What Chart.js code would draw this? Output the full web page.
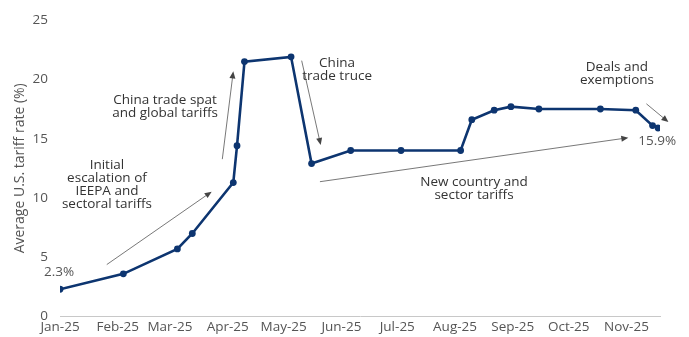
<!DOCTYPE html>
<html>
<head>
<meta charset="utf-8">
<script src="https://cdn.jsdelivr.net/npm/chart.js@4.4.1/dist/chart.umd.min.js"></script>
<style>
  html, body { margin: 0; padding: 0; background: #ffffff; }
  #wrap { width: 689px; height: 337px; }
</style>
</head>
<body>
<div id="wrap"><canvas id="chart" width="689" height="337"></canvas></div>
<script>
// Observation dates and the average U.S. tariff rate (%) on each
const dates = [
  '2025-01-01', '2025-02-04', '2025-03-05', '2025-03-13', '2025-04-04',
  '2025-04-06', '2025-04-10', '2025-05-05', '2025-05-16', '2025-06-06',
  '2025-07-03', '2025-08-04', '2025-08-10', '2025-08-22', '2025-08-31',
  '2025-09-15', '2025-10-18', '2025-11-06', '2025-11-15', '2025-11-18'
];
const tariffRate = [
  2.3, 3.6, 5.7, 7.0, 11.3,
  14.4, 21.5, 21.9, 12.9, 14.0,
  14.0, 14.0, 16.6, 17.4, 17.7,
  17.5, 17.5, 17.4, 16.1, 15.9
];

// Month ticks along the date axis
const monthStarts = [
  '2025-01-01', '2025-02-01', '2025-03-01', '2025-04-01', '2025-05-01', '2025-06-01',
  '2025-07-01', '2025-08-01', '2025-09-01', '2025-10-01', '2025-11-01'
];
const monthLabels = [
  'Jan-25', 'Feb-25', 'Mar-25', 'Apr-25', 'May-25', 'Jun-25',
  'Jul-25', 'Aug-25', 'Sep-25', 'Oct-25', 'Nov-25'
];
const yTicks = [0, 5, 10, 15, 20, 25];

// Event notes: text lines, and where the first line sits (day of year, %)
const noteText = [
  ['Initial', 'escalation of', 'IEEPA and', 'sectoral tariffs'],
  ['China trade spat', 'and global tariffs'],
  ['China', 'trade truce'],
  ['New country and', 'sector tariffs'],
  ['Deals and', 'exemptions']
];
const noteAt = [[25.2, 12.75], [56.4, 18.25], [148.7, 21.35], [222.2, 11.37], [298.9, 21.02]];
// Arrows pointing from each note toward its phase (day of year, %)
const arrowFrom = [[25.1, 4.38], [87.1, 13.27], [129.7, 21.58], [139.5, 11.37], [314.7, 17.94]];
const arrowTo   = [[81.4, 10.53], [93.0, 20.68], [139.9, 14.47], [305.0, 15.08], [326.5, 16.4]];

const DAY_MS = 86400000;
const yearStart = Date.UTC(2025, 0, 1);
function dayOf(s) {
  const [y, m, d] = s.split('-').map(Number);
  return Math.round((Date.UTC(y, m - 1, d) - yearStart) / DAY_MS);
}

const points = dates.map((d, i) => ({ x: dayOf(d), y: tariffRate[i] }));
const tickDays = monthStarts.map(dayOf);

const NAVY = '#0d3570';
const FONT = "'Open Sans', 'Noto Sans', sans-serif";

function drawArrow(ctx, x1, y1, x2, y2) {
  const ang = Math.atan2(y2 - y1, x2 - x1);
  const head = 7, half = 3;
  ctx.beginPath();
  ctx.moveTo(x1, y1);
  ctx.lineTo(x2 - Math.cos(ang) * head * 0.8, y2 - Math.sin(ang) * head * 0.8);
  ctx.stroke();
  ctx.beginPath();
  ctx.moveTo(x2, y2);
  ctx.lineTo(x2 - head * Math.cos(ang) + half * Math.sin(ang), y2 - head * Math.sin(ang) - half * Math.cos(ang));
  ctx.lineTo(x2 - head * Math.cos(ang) - half * Math.sin(ang), y2 - head * Math.sin(ang) + half * Math.cos(ang));
  ctx.closePath();
  ctx.fill();
}

const notesPlugin = {
  id: 'eventNotes',
  afterDatasetsDraw(chart) {
    const { ctx, scales: { x, y } } = chart;
    ctx.save();
    // arrows
    ctx.strokeStyle = '#555555';
    ctx.fillStyle = '#444444';
    ctx.lineWidth = 0.8;
    arrowFrom.forEach((f, i) => {
      const t = arrowTo[i];
      drawArrow(ctx, x.getPixelForValue(f[0]), y.getPixelForValue(f[1]),
                     x.getPixelForValue(t[0]), y.getPixelForValue(t[1]));
    });
    // note text
    ctx.font = '13.5px ' + FONT;
    ctx.fillStyle = '#333333';
    ctx.textAlign = 'center';
    ctx.textBaseline = 'middle';
    noteText.forEach((lines, i) => {
      const px = x.getPixelForValue(noteAt[i][0]);
      const py = y.getPixelForValue(noteAt[i][1]);
      lines.forEach((line, j) => ctx.fillText(line, px, py + j * 13));
    });
    // start and latest values
    const meta = chart.getDatasetMeta(0).data;
    const first = meta[0], last = meta[meta.length - 1];
    ctx.fillStyle = '#555555';
    ctx.fillText(tariffRate[0].toFixed(1) + '%', first.x - 1, first.y - 17);
    ctx.fillText(tariffRate[tariffRate.length - 1].toFixed(1) + '%', last.x - 1, last.y + 13);
    ctx.restore();
  }
};

new Chart(document.getElementById('chart'), {
  type: 'line',
  data: {
    datasets: [{
      data: points,
      borderColor: NAVY,
      backgroundColor: NAVY,
      borderWidth: 2.6,
      pointRadius: 3.4,
      pointBackgroundColor: NAVY,
      pointBorderWidth: 0,
      tension: 0
    }]
  },
  options: {
    responsive: false,
    animation: false,
    devicePixelRatio: 1,
    layout: { padding: { top: 18.5, right: 29, left: 0, bottom: 0 } },
    plugins: { legend: { display: false }, tooltip: { enabled: false } },
    scales: {
      x: {
        type: 'linear',
        min: 0,
        max: 322,
        afterBuildTicks: s => { s.ticks = tickDays.map(v => ({ value: v })); },
        afterFit: s => { s.height = 20.5; },
        grid: { display: false, drawTicks: false },
        border: { display: true, color: '#c8c8c8', width: 1 },
        ticks: {
          autoSkip: false,
          maxRotation: 0,
          padding: 3,
          color: '#555555',
          font: { family: FONT, size: 13.5 },
          callback: (v, i) => monthLabels[i]
        }
      },
      y: {
        min: 0,
        max: 25,
        afterBuildTicks: s => { s.ticks = yTicks.map(v => ({ value: v })); },
        afterFit: s => { s.width = 60; },
        grid: { display: false, drawTicks: false },
        border: { display: false },
        ticks: {
          padding: 12,
          color: '#555555',
          font: { family: FONT, size: 13.5 }
        },
        title: {
          display: true,
          text: 'Average U.S. tariff rate (%)',
          color: '#555555',
          font: { family: FONT, size: 14 },
          padding: { top: 11.5, bottom: 0 }
        }
      }
    }
  },
  plugins: [notesPlugin]
});
</script>
</body>
</html>
